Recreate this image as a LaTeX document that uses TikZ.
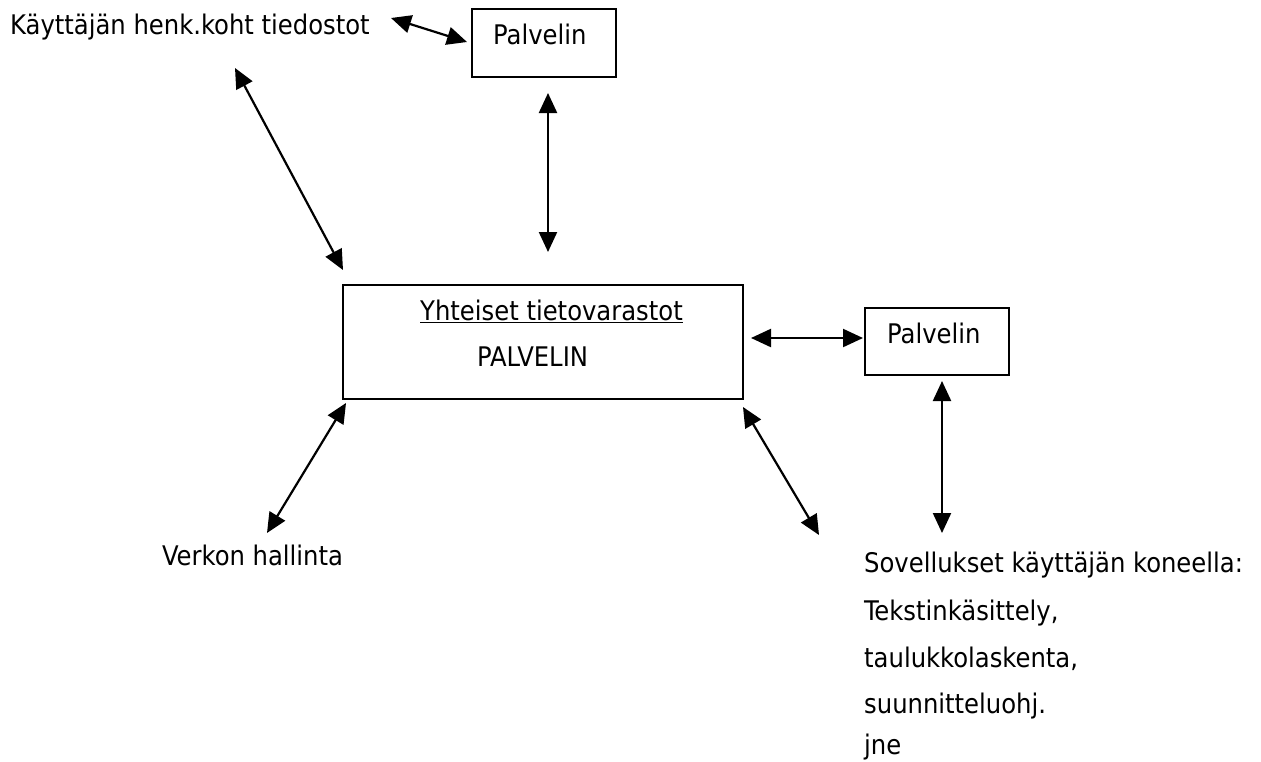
\documentclass[tikz,border=0pt]{standalone}
\usepackage{fontspec}
\setmainfont{DejaVu Sans Condensed}
\usetikzlibrary{arrows.meta}
\begin{document}
\begin{tikzpicture}[x=1pt,y=-1pt,
  lbl/.style={inner sep=0pt, anchor=base west, font=\fontsize{27}{31}\selectfont},
  box/.style={draw, line width=2pt, inner sep=0pt},
  link/.style={line width=2.2pt, {Triangle[length=20pt,width=18pt]}-{Triangle[length=20pt,width=18pt]}}]
\useasboundingbox (0,0) rectangle (1261,761);

% boxes
\node[box, minimum width=144pt, minimum height=68pt] (srvtop) at (544,43) {};
\node[box, minimum width=400pt, minimum height=114pt] (main) at (543,342) {};
\node[box, minimum width=144pt, minimum height=67pt] (srvright) at (937,341.5) {};

% texts
\node[lbl] (files) at (10,34) {Käyttäjän henk.koht tiedostot};
\node[lbl] (srvtoplbl) at (493,44) {Palvelin};
\node[lbl] (mainhead) at (420,320) {\underline{Yhteiset tietovarastot}};
\node[lbl] (mainlbl) at (477,366) {PALVELIN};
\node[lbl] (srvrightlbl) at (887,343) {Palvelin};
\node[lbl] (netmgmt) at (162,565) {Verkon hallinta};
\node[lbl] (apps1) at (864,572) {Sovellukset käyttäjän koneella:};
\node[lbl] (apps2) at (864,620) {Tekstinkäsittely,};
\node[lbl] (apps3) at (864,667) {taulukkolaskenta,};
\node[lbl] (apps4) at (864,713) {suunnitteluohj.};
\node[lbl] (apps5) at (864,754) {jne};

% connector end points
\coordinate (filesE) at (391,18);
\coordinate (srvtopW) at (467,42);
\coordinate (filesS) at (235,68);
\coordinate (mainNW) at (343,270);
\coordinate (srvtopS) at (548,93);
\coordinate (mainN) at (548,252);
\coordinate (mainE) at (751,338);
\coordinate (srvrightW) at (863,338);
\coordinate (srvrightS) at (942,381);
\coordinate (appsN) at (942,533);
\coordinate (mainSW) at (346,403);
\coordinate (netN) at (267,533);
\coordinate (mainSE) at (743,407);
\coordinate (appsNW) at (819,535);

% connectors
\draw[link] (filesE) -- (srvtopW);
\draw[link] (filesS) -- (mainNW);
\draw[link] (srvtopS) -- (mainN);
\draw[link] (mainE) -- (srvrightW);
\draw[link] (srvrightS) -- (appsN);
\draw[link] (mainSW) -- (netN);
\draw[link] (mainSE) -- (appsNW);
\end{tikzpicture}
\end{document}
